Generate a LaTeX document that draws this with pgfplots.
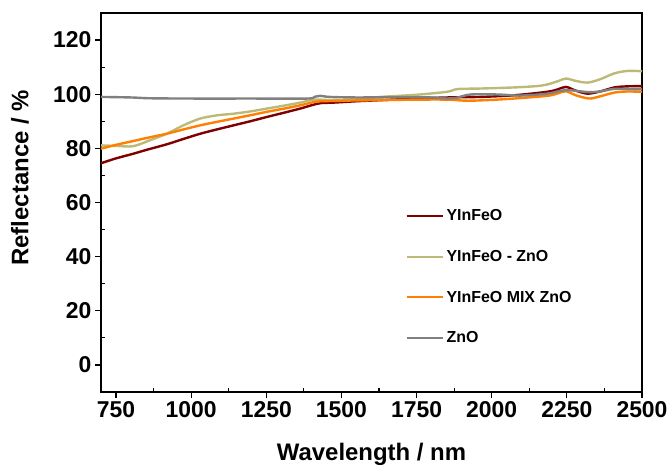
\documentclass[border=0pt]{standalone}
\usepackage{pgfplots}
\pgfplotsset{compat=1.18}
\usepackage{fontspec}
\setmainfont{Liberation Sans}

\definecolor{cRed}{RGB}{128,0,0}
\definecolor{cOlive}{RGB}{189,186,120}
\definecolor{cOrange}{RGB}{255,128,0}
\definecolor{cGray}{RGB}{128,128,128}

\begin{document}
\begin{tikzpicture}
\begin{axis}[
  scale only axis,
  width=541bp, height=379bp,
  xmin=700, xmax=2500, ymin=-10, ymax=130,
  xtick={750,1000,...,2500},
  ytick={0,20,...,120},
  minor x tick num=1, minor y tick num=1,
  xtick pos=bottom, ytick pos=left,
  tick align=inside,
  major tick length=-6bp, minor tick length=4bp,
  every tick/.style={black, line width=1.2bp},
  axis line style={line width=2bp},
  /pgf/number format/assume math mode=true,
  /pgf/number format/1000 sep={},
  tick label style={font=\bfseries\fontsize{23}{23}\selectfont},
  xticklabel style={yshift=-6bp},
  yticklabel style={xshift=-6bp},
  xlabel={Wavelength / nm},
  ylabel={Reflectance / \%},
  label style={font=\bfseries\fontsize{24}{24}\selectfont},
  xlabel style={at={(rel axis cs:0.5,0)}, anchor=base, yshift=-68bp},
  ylabel style={at={(rel axis cs:-0.15,0.565)}, anchor=center},
  legend style={draw=none, fill=none, at={(rel axis cs:0.557,0.492)}, anchor=north west,
    font=\bfseries\fontsize{16}{16}\selectfont, row sep=24bp,
    nodes={inner xsep=3bp}},
  legend cell align=left,
  legend image code/.code={\draw[#1, line width=2bp] (0bp,0bp) -- (36bp,0bp);},
  every axis plot/.append style={line width=2.4bp, smooth},
]
\addplot[cRed] table {
700 74.5
750 76.3
807 78.0
850 79.4
919 81.5
975 83.5
1030 85.4
1086 87.0
1141 88.5
1200 90.1
1252 91.6
1310 93.2
1363 94.7
1400 95.9
1430 96.7
1474 96.9
1550 97.4
1630 97.8
1750 98.4
1852 98.8
1963 99.0
2074 99.6
2185 100.9
2220 101.8
2247 102.7
2280 101.3
2319 100.2
2360 101.0
2408 102.5
2450 102.9
2500 103.0
};
\addlegendentry{YInFeO}
\addplot[cOlive] table {
700 81.1
750 80.9
807 80.8
863 83.0
919 85.4
974 88.5
1030 91.0
1086 92.2
1141 92.8
1200 93.7
1252 94.7
1310 95.8
1363 96.9
1407 98.0
1430 98.0
1474 97.8
1550 98.1
1630 99.0
1750 99.8
1852 100.9
1886 101.9
1963 102.1
2074 102.5
2150 103.0
2185 103.6
2220 104.8
2247 105.8
2280 104.9
2319 104.3
2360 105.5
2408 107.7
2452 108.6
2500 108.5
};
\addlegendentry{YInFeO - ZnO}
\addplot[cOrange] table {
700 79.9
750 81.3
807 82.7
863 84.1
919 85.4
975 87.0
1030 88.5
1086 89.8
1141 91.0
1200 92.3
1252 93.5
1310 94.7
1363 95.9
1419 97.3
1474 97.5
1550 97.7
1630 97.8
1750 98.0
1852 98.0
1919 97.6
2000 97.9
2074 98.4
2185 99.4
2220 100.3
2247 101.1
2280 99.6
2324 98.4
2360 99.2
2408 100.6
2450 101.0
2500 100.9
};
\addlegendentry{YInFeO MIX ZnO}
\addplot[cGray] table {
700 99.0
800 98.8
863 98.5
1000 98.4
1200 98.4
1386 98.4
1410 99.0
1430 99.4
1460 99.0
1550 98.8
1700 98.9
1800 98.8
1852 98.4
1880 98.6
1930 99.9
2019 99.9
2097 99.5
2185 100.2
2247 101.5
2319 100.8
2360 101.0
2408 102.0
2450 101.9
2500 101.9
};
\addlegendentry{ZnO}
\end{axis}
% inward ticks along the top edge
\begin{axis}[
  scale only axis,
  width=541bp, height=379bp,
  xmin=700, xmax=2500, ymin=-10, ymax=130,
  axis lines=none,
  xtick={750,875,...,2500}, ytick=\empty,
  xticklabels={},
  xtick pos=top, tick align=inside,
  major tick length=4bp,
  every tick/.style={black, line width=1.2bp},
]
\addplot[draw=none] coordinates {(700,0)};
\end{axis}
\draw[line width=2bp] (0bp,379bp) -- (541bp,379bp);
\pgfresetboundingbox
\path[use as bounding box] (-101bp,-73bp) rectangle (570bp,392bp);
\end{tikzpicture}
\end{document}
